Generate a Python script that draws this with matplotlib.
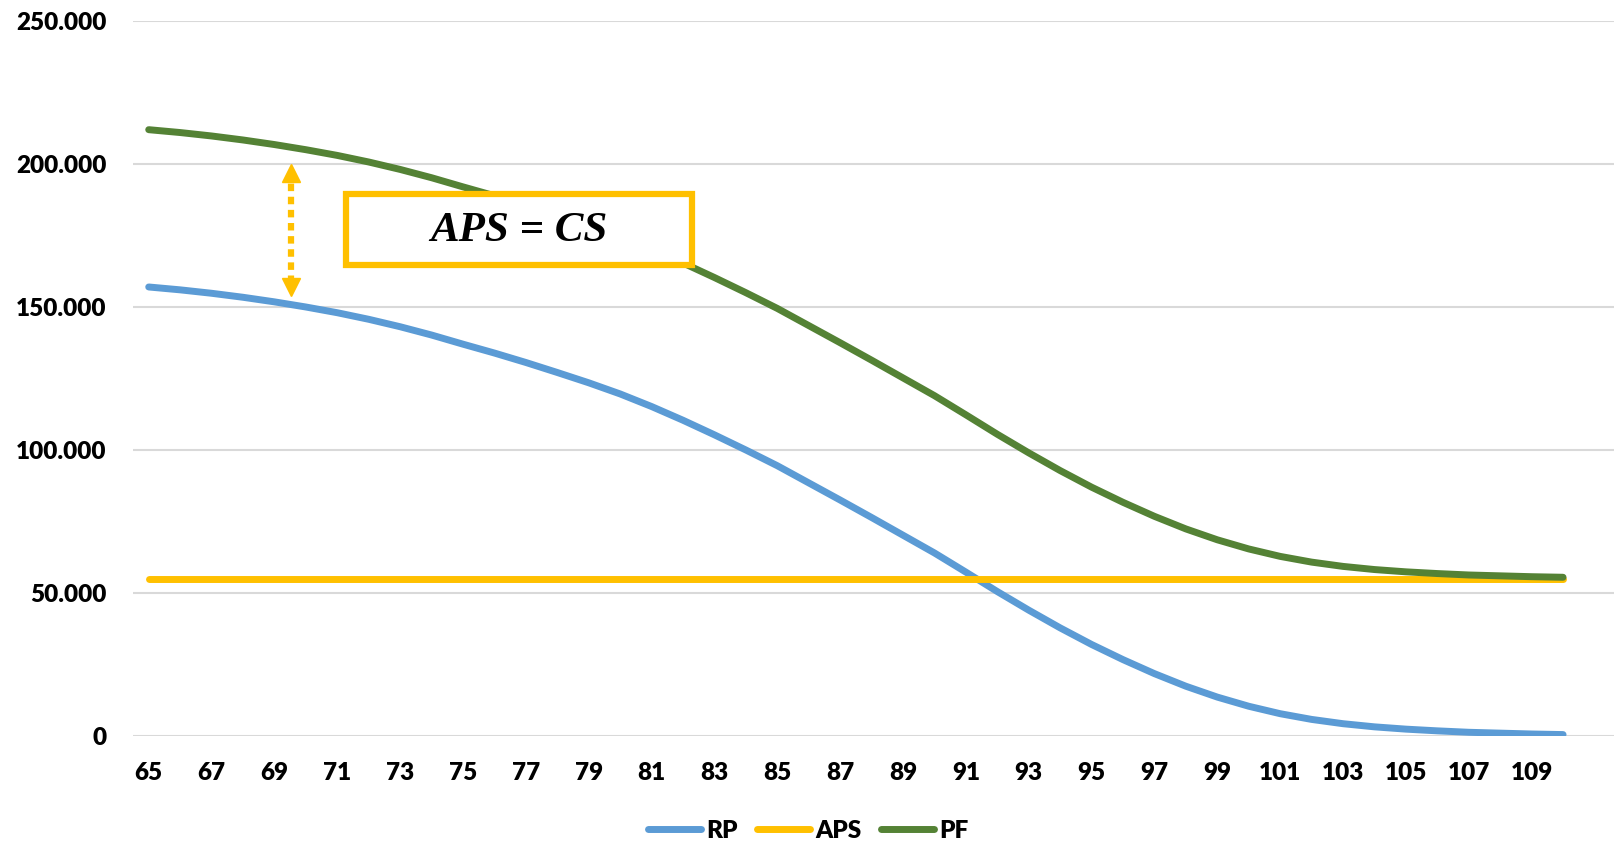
import numpy as np
import matplotlib
matplotlib.use("Agg")
import matplotlib.pyplot as plt
from matplotlib.patches import Rectangle
from matplotlib.ticker import FuncFormatter

plt.rcParams["font.family"] = ["Lato", "DejaVu Sans"]

# ages 65..110
ages = list(range(65, 111))
# RP values in thousands
rp_k = [157.0, 156.0, 154.8, 153.4, 151.8, 150.0, 148.0, 145.7, 143.1, 140.2,
        137.0, 133.9, 130.6, 127.1, 123.5, 119.6, 115.2, 110.4, 105.3, 100.0,
        94.5, 88.5, 82.5, 76.4, 70.2, 64.0, 57.3, 50.5, 44.0, 37.8,
        32.0, 26.7, 21.8, 17.4, 13.6, 10.4, 7.8, 5.8, 4.3, 3.2,
        2.4, 1.8, 1.3, 1.0, 0.7, 0.5]
aps_value = 55000
series_names = ["RP", "APS", "PF"]
colors = {"RP": "#5B9BD5", "APS": "#FFC000", "PF": "#548235"}
y_ticks = [0, 50000, 100000, 150000, 200000, 250000]
x_labels = list(range(65, 111, 2))

rp = np.array(rp_k) * 1000
aps = np.full(len(ages), aps_value, dtype=float)
pf = rp + aps

W, H = 1614, 867
fig = plt.figure(figsize=(W / 100, H / 100), dpi=100)
ax = fig.add_axes([133 / W, (H - 736) / H, (W - 133) / W, (736 - 21) / H])

lw = 5.0
ax.plot(ages, rp, color=colors["RP"], lw=lw, label="RP", solid_capstyle="round", zorder=3)
ax.plot(ages, aps, color=colors["APS"], lw=lw, label="APS", solid_capstyle="round", zorder=4)
ax.plot(ages, pf, color=colors["PF"], lw=lw, label="PF", solid_capstyle="round", zorder=5)

ax.set_xlim(64.5, 64.5 + (W - 133) / 31.43)
ax.set_ylim(0, 250000)
ax.set_yticks(y_ticks)
ax.yaxis.set_major_formatter(FuncFormatter(lambda v, p: f"{int(v):,}".replace(",", ".")))
ax.set_xticks(x_labels)
ax.set_xticklabels([str(a) for a in x_labels])
ax.grid(axis="y", color="#D9D9D9", lw=1.5, zorder=0)
for s in ax.spines.values():
    s.set_visible(False)
ax.tick_params(length=0, labelsize=17.5)
ax.tick_params(axis="y", pad=19)
ax.tick_params(axis="x", pad=19)
for lab in ax.get_xticklabels() + ax.get_yticklabels():
    lab.set_fontweight("heavy")

# annotation: double dotted arrow between PF and RP
ax_x = 69.52
ax.plot([ax_x, ax_x], [158500, 195500], color=colors["APS"], lw=4.5,
        linestyle=(0, (1.2, 0.9)), zorder=6)
ax.plot([ax_x], [197000], marker="^", color=colors["APS"], markersize=13, zorder=6)
ax.plot([ax_x], [157000], marker="v", color=colors["APS"], markersize=13, zorder=6)

# boxed label
bx0, bx1 = 71.27, 82.28
by0, by1 = 164700, 189500
ax.add_patch(Rectangle((bx0, by0), bx1 - bx0, by1 - by0, facecolor="white",
                       edgecolor=colors["APS"], lw=4.5, zorder=7))
ax.text((bx0 + bx1) / 2, (by0 + by1) / 2 - 500, "APS = CS", ha="center", va="center",
        fontsize=31, fontstyle="italic", fontweight="bold",
        family=["Liberation Serif", "DejaVu Serif"], zorder=8)

leg = fig.legend(loc="center", bbox_to_anchor=(808 / W, (H - 831) / H), ncol=3,
                 frameon=False, handlelength=2.2, handletextpad=0.2,
                 columnspacing=0.8, prop={"weight": "heavy", "size": 17.5})

fig.savefig("out.png", dpi=100)
